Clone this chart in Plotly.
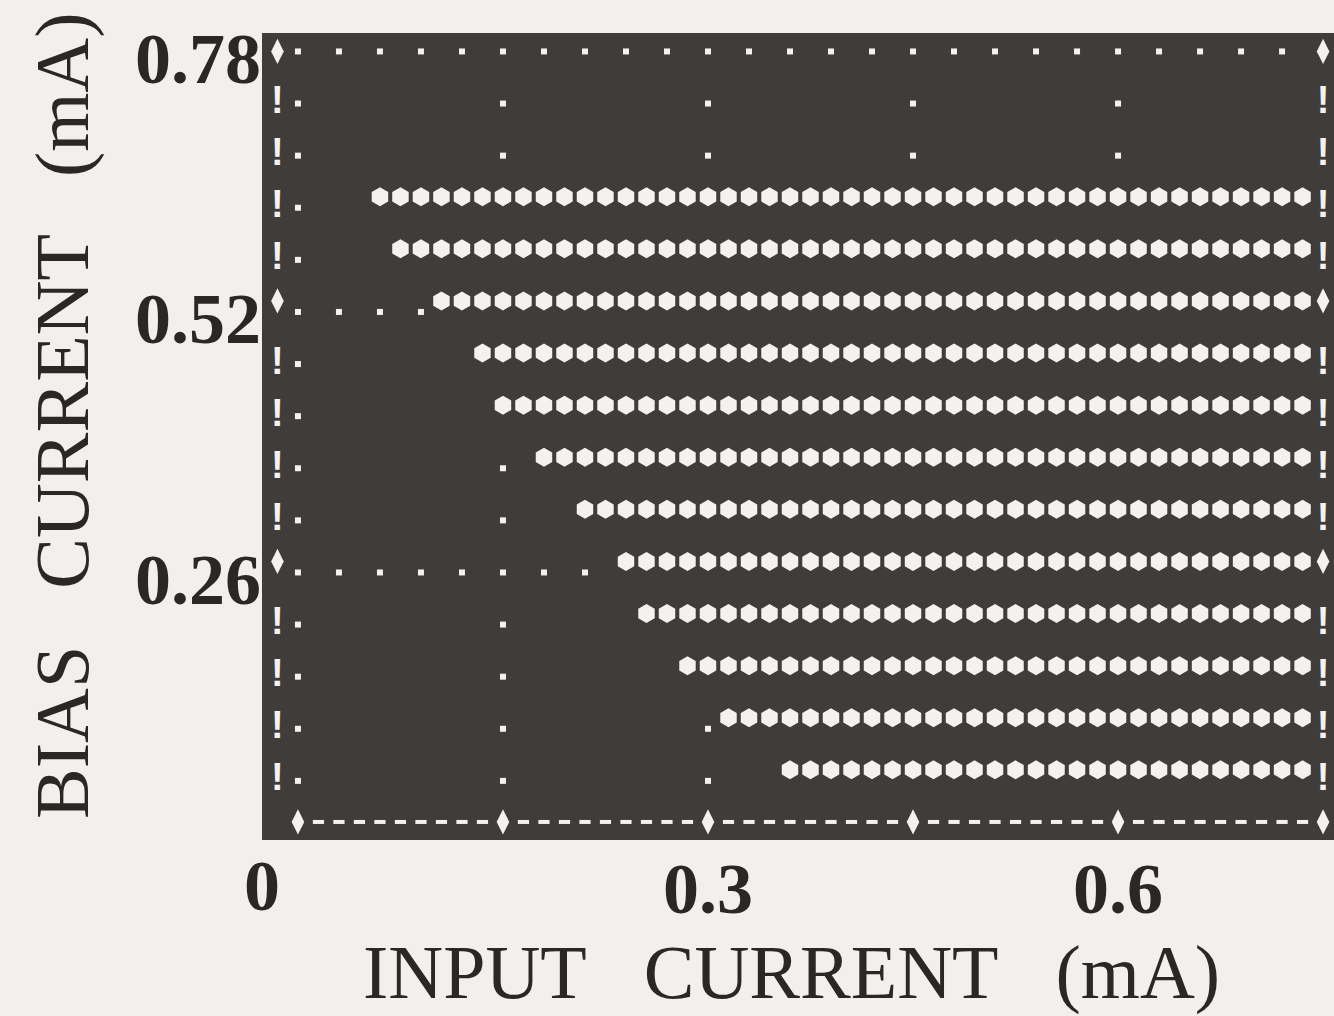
import plotly.graph_objects as go

# ---- scan data ---------------------------------------------------------
# Bias current of each printed scan row (mA)
BIAS_ROWS_MA = [0.052, 0.104, 0.156, 0.208, 0.260, 0.312, 0.364,
                0.416, 0.468, 0.520, 0.572, 0.624, 0.676, 0.728]
# Lowest input current (mA) at which the device switched, per bias row
# (None = no switching anywhere in the sweep)
SWITCH_ONSET_MA = [0.360, 0.315, 0.285, 0.255, 0.240, 0.210, 0.180,
                   0.150, 0.135, 0.105, 0.075, 0.060, None, None]
# Input current sweep points (mA), 0.015 mA per printer column
INPUT_SWEEP_MA = [round(0.015 * k, 3) for k in range(50)]

# ---- printer-plot frame ------------------------------------------------
X_FRAME_LEFT = -0.015          # column holding the left "!" border
X_FRAME_RIGHT = 0.75           # right border column
Y_FRAME_TOP = 0.78             # top border row
Y_FRAME_BOTTOM = 0.0           # bottom border row
X_GRID_MA = [0.0, 0.15, 0.30, 0.45, 0.60]   # dotted vertical grid
Y_GRID_MA = [0.26, 0.52, 0.78]              # dotted horizontal grid
X_TICK_VALS = [0.3, 0.6]
X_TICK_TEXT = ["0.3", "0.6"]
Y_TICK_VALS = [0.26, 0.52, 0.78]
Y_TICK_TEXT = ["0.26", "0.52", "0.78"]

INK = "#2b2727"
PAPER = "#f1f0ed"
PANEL = "#3f3d3c"
GLYPH = "#f3f2ee"


def key(v):
    return int(round(v * 1000))


# switched points ("*")
sw_x, sw_y = [], []
switched = set()
for row, onset in zip(BIAS_ROWS_MA, SWITCH_ONSET_MA):
    if onset is None:
        continue
    for x in INPUT_SWEEP_MA:
        if key(x) >= key(onset):
            sw_x.append(x)
            sw_y.append(row)
            switched.add((key(x), key(row)))

# grid dots (".")
dot_x, dot_y = [], []
x_grid_keys = {key(v) for v in X_GRID_MA}
y_grid_keys = {key(v) for v in Y_GRID_MA}
for row in BIAS_ROWS_MA + [Y_FRAME_TOP]:
    for k, x in enumerate(INPUT_SWEEP_MA):
        on_grid = (k % 2 == 0) if key(row) in y_grid_keys else key(x) in x_grid_keys
        if on_grid and (key(x), key(row)) not in switched:
            dot_x.append(x)
            dot_y.append(row)

# side borders: "!" on ordinary rows, "+" on grid rows
bang_x, bang_y, plus_x, plus_y, top_x, top_y = [], [], [], [], [], []
for row in BIAS_ROWS_MA:
    tgt_x, tgt_y = (plus_x, plus_y) if key(row) in y_grid_keys else (bang_x, bang_y)
    for xb in (X_FRAME_LEFT, X_FRAME_RIGHT):
        tgt_x.append(xb)
        tgt_y.append(row)
for xb in (X_FRAME_LEFT, X_FRAME_RIGHT):
    top_x.append(xb)
    top_y.append(Y_FRAME_TOP)

# bottom border: "+" every 10 columns, "-" in between
dash_x, dash_y = [], []
for k, x in enumerate(INPUT_SWEEP_MA):
    if k % 10 == 0:
        plus_x.append(x)
        plus_y.append(Y_FRAME_BOTTOM)
    else:
        dash_x.append(x)
        dash_y.append(Y_FRAME_BOTTOM)
plus_x.append(X_FRAME_RIGHT)
plus_y.append(Y_FRAME_BOTTOM)

plus_marker = dict(symbol="diamond-tall", size=18, color=GLYPH, line=dict(width=0))

fig = go.Figure()
fig.add_trace(go.Scatter(
    x=sw_x, y=sw_y, mode="markers", hoverinfo="skip",
    marker=dict(symbol="hexagon", size=19, color=GLYPH, line=dict(width=0)),
))
fig.add_trace(go.Scatter(
    x=plus_x, y=plus_y, mode="markers", hoverinfo="skip", marker=plus_marker,
))
fig.add_trace(go.Scatter(
    x=dash_x, y=dash_y, mode="markers", hoverinfo="skip",
    marker=dict(symbol="line-ew", size=8, color=GLYPH,
                line=dict(width=4, color=GLYPH)),
))
# baseline glyphs and the top border sit a little lower in the character cell
fig.add_trace(go.Scatter(
    x=top_x, y=top_y, mode="markers", hoverinfo="skip", yaxis="y2",
    marker=plus_marker,
))
fig.add_trace(go.Scatter(
    x=dot_x, y=dot_y, mode="markers", hoverinfo="skip", yaxis="y2",
    marker=dict(symbol="square", size=6, color=GLYPH, line=dict(width=0)),
))
fig.add_trace(go.Scatter(
    x=bang_x, y=bang_y, mode="text", text=["!"] * len(bang_x),
    hoverinfo="skip", yaxis="y2",
    textfont=dict(family="Liberation Sans", size=38, color=GLYPH, weight="bold"),
))

X_RANGE = [-0.0263, 0.758]
Y_RANGE = [-0.0180, 0.7874]
CELL_DROP = 0.011

tick_font = dict(family="Liberation Serif", size=72, color=INK, weight="bold")
title_font = dict(family="Liberation Serif", size=76, color=INK)
GAP = "\u00a0\u00a0\u00a0"

fig.update_layout(
    width=1334, height=1016,
    margin=dict(l=262, r=0, t=33, b=176),
    paper_bgcolor=PAPER, plot_bgcolor=PANEL,
    showlegend=False,
    xaxis=dict(range=X_RANGE, tickvals=X_TICK_VALS, ticktext=X_TICK_TEXT,
               tickfont=tick_font, showgrid=False, zeroline=False,
               showline=False, ticks="", ticklabelstandoff=0),
    yaxis=dict(range=Y_RANGE, tickvals=Y_TICK_VALS, ticktext=Y_TICK_TEXT,
               tickfont=tick_font, showgrid=False, zeroline=False,
               showline=False, ticks="", ticklabelshift=17,
               ticklabelstandoff=0, ticklabeloverflow="allow"),
    yaxis2=dict(range=[Y_RANGE[0] + CELL_DROP, Y_RANGE[1] + CELL_DROP],
                overlaying="y", visible=False),
    annotations=[
        dict(text="0", xref="paper", yref="paper", x=0, y=-0.057,
             xanchor="center", yanchor="middle", showarrow=False,
             font=tick_font),
        dict(text="INPUT" + GAP + "CURRENT" + GAP + "(mA)", xref="paper", yref="paper",
             x=0.4935, y=-0.1648, xanchor="center", yanchor="middle",
             showarrow=False, font=title_font, borderpad=0),
        dict(text="BIAS" + GAP + "CURRENT" + GAP + "(mA)", xref="paper", yref="paper",
             x=-0.1866, y=0.5254, xanchor="center", yanchor="middle",
             textangle=-90, showarrow=False, font=title_font, borderpad=0),
    ],
)

fig.write_html("out.html")
